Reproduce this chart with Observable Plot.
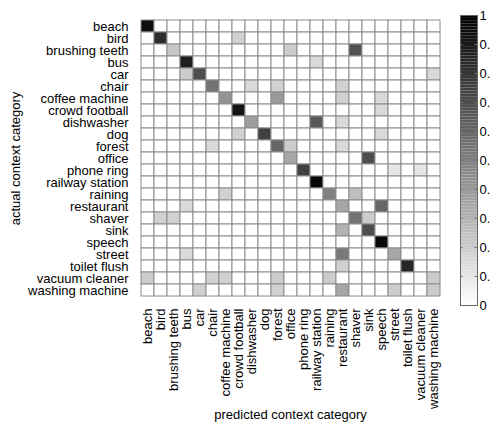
<!DOCTYPE html>
<html>
<head>
<meta charset="utf-8">
<script src="https://cdn.jsdelivr.net/npm/d3@7"></script>
<script src="https://cdn.jsdelivr.net/npm/@observablehq/plot@0.6"></script>
<style>
  html, body { margin: 0; padding: 0; background: #fff; }
  #chart { position: relative; width: 490px; height: 423px; overflow: hidden; }
  #chart > svg { position: absolute; left: 0; top: 0; }
</style>
</head>
<body>
<div id="chart"></div>
<script>
const categories = ["beach", "bird", "brushing teeth", "bus", "car", "chair", "coffee machine",
  "crowd football", "dishwasher", "dog", "forest", "office", "phone ring", "railway station",
  "raining", "restaurant", "shaver", "sink", "speech", "street", "toilet flush",
  "vacuum cleaner", "washing machine"];

// rows: actual category, columns: predicted category (same order as categories)
const confusion = [
  [0.95,0,0,0,0,0,0,0,0,0,0,0,0,0,0,0,0,0,0,0,0,0,0],
  [0,0.82,0,0,0,0,0,0.18,0,0,0,0,0,0,0,0,0,0,0,0,0,0,0],
  [0,0,0.22,0,0,0,0,0,0,0,0,0.2,0,0,0,0,0.68,0,0,0,0,0,0],
  [0,0,0,0.88,0,0,0,0,0,0,0,0,0,0.15,0,0,0,0,0,0,0,0,0],
  [0,0,0,0.2,0.7,0,0,0,0,0,0,0,0,0,0,0,0,0,0,0,0,0,0.15],
  [0,0,0,0,0,0.55,0,0,0.15,0,0.18,0,0,0,0,0.18,0,0,0,0,0,0,0],
  [0,0,0,0,0,0,0.42,0,0,0,0.4,0,0,0,0,0.18,0,0,0.15,0,0,0,0],
  [0,0,0,0,0,0,0,0.92,0,0,0,0,0,0,0,0,0,0,0.15,0,0,0,0],
  [0,0,0,0,0,0,0,0,0.38,0,0,0,0,0.65,0,0.15,0,0,0,0,0,0,0],
  [0,0,0,0,0,0,0,0.18,0,0.75,0,0,0,0,0,0,0,0,0.15,0,0,0,0],
  [0,0,0,0,0,0.15,0,0,0,0,0.6,0.2,0,0,0,0.15,0,0,0,0,0,0,0],
  [0,0,0,0,0,0,0,0,0,0,0,0.35,0,0,0,0,0,0.7,0,0,0,0,0],
  [0,0,0,0,0,0,0,0,0,0,0,0,0.75,0,0,0,0,0,0,0.1,0,0.1,0],
  [0,0,0,0,0,0,0,0,0,0,0,0,0,0.97,0,0,0,0,0,0,0,0,0],
  [0,0,0,0,0,0,0.18,0,0,0,0,0,0,0,0.5,0,0.25,0,0,0,0,0,0],
  [0,0,0,0.15,0,0,0,0,0,0,0,0,0,0,0,0.35,0,0,0.6,0,0,0,0],
  [0,0.18,0.18,0,0,0,0,0,0,0,0,0,0,0,0,0,0.55,0.2,0,0,0,0,0],
  [0,0,0,0,0,0,0,0,0,0,0,0,0,0,0,0.3,0,0.7,0,0,0,0,0],
  [0,0,0,0,0,0,0,0,0,0,0,0,0,0,0,0,0,0,0.97,0,0,0,0],
  [0,0,0,0.15,0,0,0,0,0,0,0,0,0,0,0,0.52,0,0,0,0.35,0,0,0],
  [0,0,0,0,0,0,0,0,0,0,0,0,0,0,0,0.18,0,0,0,0,0.85,0,0],
  [0.2,0,0,0,0,0.18,0.18,0,0,0,0.2,0,0,0,0.2,0,0,0,0,0,0,0,0.2],
  [0,0,0,0,0.18,0,0,0,0,0,0.18,0,0,0,0,0.35,0,0,0,0.2,0,0,0.2]
];

const colorbarTicks = [0, 0.1, 0.2, 0.3, 0.4, 0.5, 0.6, 0.7, 0.8, 0.9, 1];

const table = [];
confusion.forEach((row, i) => row.forEach((v, j) => {
  table.push({actual: categories[i], predicted: categories[j], value: v});
}));

const font = {fontFamily: "'Liberation Sans', Arial, sans-serif", fontSize: "13px", color: "#000", background: "transparent"};
const grayScale = {type: "linear", domain: [0, 1], range: ["#ffffff", "#000000"]};

const main = Plot.plot({
  width: 490,
  height: 423,
  marginLeft: 133,
  marginRight: 43,
  marginTop: 14,
  marginBottom: 121,
  style: font,
  x: {domain: categories, padding: 0, tickRotate: -90, tickSize: 0, tickPadding: 6,
      label: "predicted context category", labelAnchor: "center", labelOffset: 116},
  y: {domain: categories, padding: 0, tickSize: 0, tickPadding: 5,
      label: "actual context category", labelAnchor: "center", labelOffset: 123},
  color: grayScale,
  marks: [
    Plot.cell(table, {x: "predicted", y: "actual", fill: "value", stroke: "#8c8c8c", strokeWidth: 1})
  ]
});

const steps = d3.range(0, 100).map(i => ({y1: i / 100, y2: (i + 1) / 100, v: (i + 0.5) / 100}));

const bar = Plot.plot({
  width: 490,
  height: 423,
  marginLeft: 460,
  marginRight: 13,
  marginTop: 15,
  marginBottom: 118,
  style: font,
  x: {domain: [0, 1], axis: null},
  y: {domain: [0, 1], ticks: colorbarTicks, tickSize: 0, tickPadding: 2, label: null, axis: "right",
      tickFormat: d => d === 0 ? "0" : d === 1 ? "1" : d.toFixed(1)},
  color: grayScale,
  marks: [
    Plot.rect(steps, {x1: 0, x2: 1, y1: "y1", y2: "y2", fill: "v"}),
    Plot.ruleY(colorbarTicks, {x1: 0, x2: 0.15, stroke: "#777"}),
    Plot.ruleY(colorbarTicks, {x1: 0.85, x2: 1, stroke: "#777"}),
    Plot.frame({stroke: "#666"})
  ]
});

const chart = document.getElementById("chart");
chart.appendChild(main);
chart.appendChild(bar);
</script>
</body>
</html>
